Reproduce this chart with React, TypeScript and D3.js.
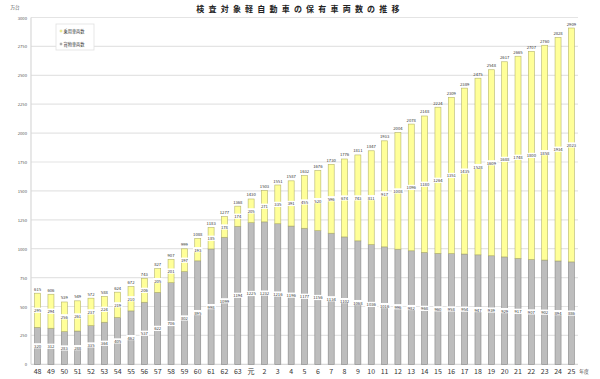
import React from "react";
import * as d3 from "d3";

const categories = ["48","49","50","51","52","53","54","55","56","57","58","59","60","61","62","63","元","2","3","4","5","6","7","8","9","10","11","12","13","14","15","16","17","18","19","20","21","22","23","24","25"];
const cargo = [320,312,283,288,335,364,405,462,537,622,706,802,895,998,1099,1194,1225,1232,1216,1196,1177,1156,1134,1102,1068,1036,1016,996,982,968,960,958,954,947,939,929,917,907,902,894,886];
const passenger = [295,294,256,261,237,224,219,210,206,205,201,197,193,185,178,174,205,271,335,391,455,520,596,674,743,811,917,1008,1096,1180,1264,1351,1435,1528,1609,1688,1748,1800,1858,1934,2023];
const yTicks = [0,250,500,750,1000,1250,1500,1750,2000,2250,2500,2750,3000];
const title = "検査対象軽自動車の保有車両数の推移";
const legendLabels = ["乗用車両数", "貨物車両数"];

const W = 600, H = 379;
const FONT = "'Noto Sans CJK JP', 'Noto Sans', sans-serif";

export default function App() {
  const x = d3.scaleBand<string>().domain(categories).range([31, 578]).paddingInner(0.55).paddingOuter(0.27);
  const y = d3.scaleLinear().domain([0, 3000]).range([364.3, 17.5]);
  const bw = x.bandwidth();
  const YEL = "#ffff99", YEL_S = "#b5b56a", GRY = "#bdbdbd", GRY_S = "#858585";

  const labelBox = (cx: number, cy: number, txt: string, key: string, box = true) => {
    const w = txt.length * 2.5 + 2;
    return (
      <g key={key}>
        {box && <rect x={cx - w / 2} y={cy - 2.6} width={w} height={5.2} fill="#fff" />}
        <text x={cx} y={cy} fontSize={4.2} textAnchor="middle" dominantBaseline="central" fill="#333" fontFamily={FONT}>{txt}</text>
      </g>
    );
  };

  return (
    <svg width={W} height={H} style={{ position: "absolute", left: 0, top: 0, background: "#fff" }}>
      <rect width={W} height={H} fill="#fff" />
      <text x={300} y={12} fontSize={8} fontWeight="bold" textAnchor="middle" letterSpacing={4.2} fill="#222" fontFamily={FONT}>{title}</text>
      <text x={15} y={9} fontSize={4.5} textAnchor="middle" fill="#444" fontFamily={FONT}>万台</text>
      {yTicks.map((t) => (
        <g key={"g" + t}>
          {t > 0 && <line x1={31} x2={578} y1={y(t)} y2={y(t)} stroke="#e4e4e4" strokeWidth={1.2} />}
          <text x={27} y={y(t)} fontSize={4.2} textAnchor="end" dominantBaseline="central" fill="#555" fontFamily={FONT}>{t}</text>
        </g>
      ))}
      <line x1={31} x2={31} y1={y(3000)} y2={y(0)} stroke="#d8d8d8" strokeWidth={1.2} />
      <line x1={31} x2={578} y1={y(0)} y2={y(0)} stroke="#d8d8d8" strokeWidth={1.2} />
      {categories.map((c, i) => {
        const x0 = x(c)!;
        const total = cargo[i] + passenger[i];
        return (
          <g key={c}>
            <rect x={x0} y={y(cargo[i])} width={bw} height={y(0) - y(cargo[i])} fill={GRY} stroke={GRY_S} strokeWidth={0.6} />
            <rect x={x0} y={y(total)} width={bw} height={y(cargo[i]) - y(total)} fill={YEL} stroke={YEL_S} strokeWidth={0.6} />
          </g>
        );
      })}
      {categories.map((c, i) => {
        const cx = x(c)! + bw / 2;
        const total = cargo[i] + passenger[i];
        return (
          <g key={"l" + c}>
            {labelBox(cx, y(cargo[i] / 2), String(cargo[i]), "c")}
            {labelBox(cx, y(cargo[i] + passenger[i] / 2), String(passenger[i]), "p")}
            {labelBox(cx, y(total) - 4.5, String(total), "t", false)}
            <text x={cx} y={370.5} fontSize={7} textAnchor="middle" dominantBaseline="central" fill="#333" fontFamily={FONT}>{c}</text>
          </g>
        );
      })}
      <text x={584} y={370.5} fontSize={4.8} textAnchor="middle" dominantBaseline="central" fill="#444" fontFamily={FONT}>年度</text>
      <g>
        <rect x={56} y={24} width={38} height={26} fill="#fff" stroke="#e0e0e0" strokeWidth={0.8} />
        {legendLabels.map((l, i) => (
          <g key={l}>
            <rect x={60} y={31 + i * 13 - 1} width={2} height={2} fill={i === 0 ? YEL : GRY} stroke={i === 0 ? YEL_S : GRY_S} strokeWidth={0.3} />
            <text x={63.5} y={31 + i * 13} fontSize={4.2} dominantBaseline="central" fill="#333" fontFamily={FONT}>{l}</text>
          </g>
        ))}
      </g>
    </svg>
  );
}
